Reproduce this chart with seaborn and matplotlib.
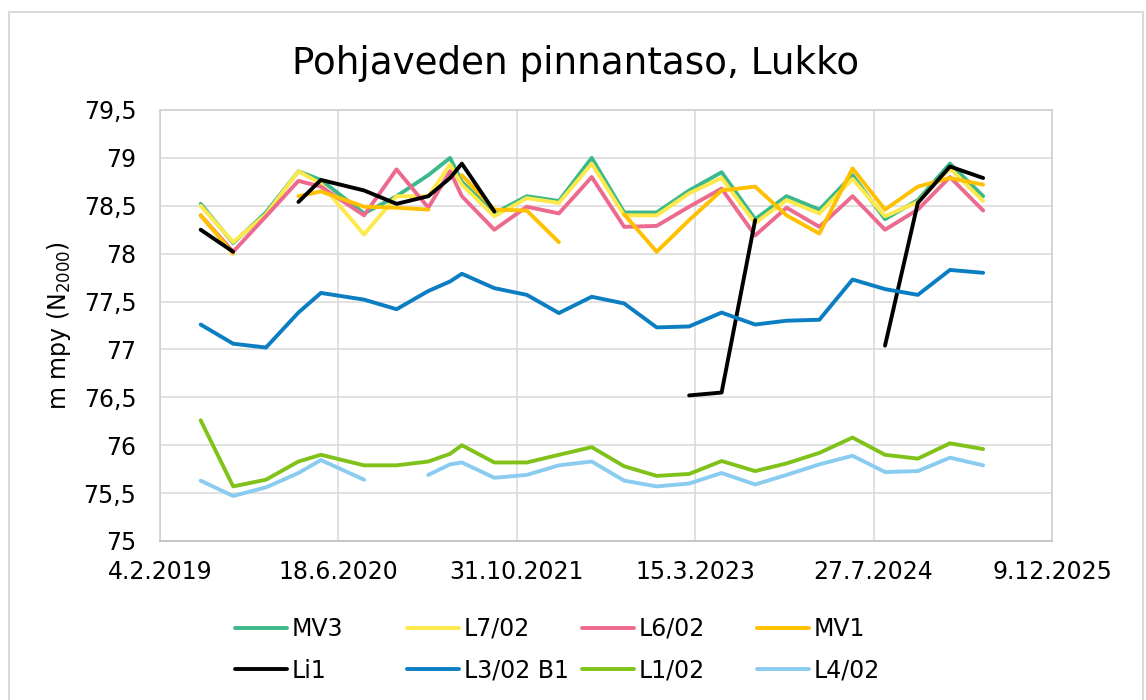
import matplotlib
matplotlib.use("Agg")
import matplotlib.pyplot as plt
from matplotlib.lines import Line2D
from matplotlib.patches import Rectangle
from matplotlib.ticker import FuncFormatter
import seaborn as sns
import pandas as pd
import numpy as np

nan = np.nan

# mittauspäivät (luettu kuvasta)
dates = ["2019-05-29", "2019-08-28", "2019-11-28", "2020-02-27", "2020-04-30",
         "2020-08-29", "2020-11-28", "2021-02-25", "2021-04-27", "2021-05-30",
         "2021-08-29", "2021-11-28", "2022-02-26", "2022-05-29", "2022-08-28",
         "2022-11-27", "2023-02-26", "2023-05-28", "2023-08-30", "2023-11-26",
         "2024-02-26", "2024-05-29", "2024-08-28", "2024-11-28", "2025-02-26",
         "2025-05-30"]

mv3 = [78.52, 78.11, 78.43, 78.86, 78.77, 78.42, 78.60, 78.82, 79.00, 78.75,
       78.42, 78.60, 78.55, 79.00, 78.43, 78.43, 78.66, 78.85, 78.36, 78.60,
       78.46, 78.82, 78.36, 78.56, 78.94, 78.60]
l7_02 = [78.50, 78.12, 78.41, 78.86, 78.73, 78.20, 78.60, 78.60, 78.93, 78.72,
         78.39, 78.58, 78.53, 78.94, 78.40, 78.40, 78.63, 78.79, 78.32, 78.56,
         78.42, 78.78, 78.39, 78.54, 78.89, 78.55]
l6_02 = [78.40, 78.02, 78.39, 78.76, 78.70, 78.40, 78.88, 78.48, 78.86, 78.60,
         78.25, 78.49, 78.42, 78.80, 78.28, 78.29, 78.49, 78.68, 78.19, 78.48,
         78.28, 78.60, 78.25, 78.46, 78.80, 78.45]
mv1 = [78.40, 78.00, nan, 78.60, 78.65, 78.49, 78.48, 78.46, nan, 78.82,
       78.46, 78.45, 78.12, nan, 78.41, 78.02, 78.35, 78.66, 78.70, 78.40,
       78.21, 78.89, 78.46, 78.70, 78.79, 78.72]
li1 = [78.25, 78.02, nan, 78.54, 78.77, 78.66, 78.52, 78.60, 78.79, 78.94,
       78.44, nan, nan, nan, nan, nan, 76.52, 76.55, 78.35, nan,
       nan, nan, 77.04, 78.53, 78.91, 78.79]
l3_02_b1 = [77.26, 77.06, 77.02, 77.385, 77.59, 77.52, 77.42, 77.61, 77.71, 77.79,
            77.64, 77.57, 77.38, 77.55, 77.48, 77.23, 77.24, 77.385, 77.26, 77.30,
            77.31, 77.73, 77.63, 77.57, 77.83, 77.80]
l1_02 = [76.26, 75.57, 75.64, 75.83, 75.90, 75.79, 75.79, 75.83, 75.91, 76.00,
         75.82, 75.82, 75.90, 75.98, 75.78, 75.68, 75.70, 75.835, 75.73, 75.81,
         75.92, 76.08, 75.90, 75.86, 76.02, 75.96]
l4_02 = [75.63, 75.47, 75.56, 75.71, 75.845, 75.64, nan, 75.69, 75.80, 75.82,
         75.66, 75.69, 75.79, 75.83, 75.63, 75.57, 75.60, 75.71, 75.59, 75.69,
         75.80, 75.89, 75.72, 75.73, 75.87, 75.79]

series_names = ["MV3", "L7/02", "L6/02", "MV1", "Li1", "L3/02 B1", "L1/02", "L4/02"]
series_values = [mv3, l7_02, l6_02, mv1, li1, l3_02_b1, l1_02, l4_02]
colors = ["#3CB98A", "#FFE94A", "#EC6A8E", "#FFC000", "#000000", "#0B7DC2", "#80C21A", "#8ACCF0"]

x_ticks = ["2019-02-04", "2020-06-18", "2021-10-31", "2023-03-15", "2024-07-27", "2025-12-09"]
y_ticks = [75, 75.5, 76, 76.5, 77, 77.5, 78, 78.5, 79, 79.5]

title = "Pohjaveden pinnantaso, Lukko"
ylabel = "m mpy (N$_{2000}$)"

# pitkä taulukko, katkot omiksi osikseen jotta viiva katkeaa
frames = []
for name, vals in zip(series_names, series_values):
    s = pd.Series(vals, dtype=float)
    part = s.isna().cumsum().astype(str)
    df = pd.DataFrame({"date": pd.to_datetime(dates), "value": s,
                       "series": name, "part": name + "_" + part})
    frames.append(df.dropna(subset=["value"]))
long_df = pd.concat(frames, ignore_index=True)

sns.set_theme(style="white")
plt.rcParams["font.family"] = ["DejaVu Sans"]
plt.rcParams["lines.solid_capstyle"] = "round"
plt.rcParams["text.color"] = "black"
plt.rcParams["axes.labelcolor"] = "black"
plt.rcParams["xtick.color"] = "black"
plt.rcParams["ytick.color"] = "black"

W, H = 1146, 700
fig = plt.figure(figsize=(W / 100, H / 100), dpi=100)
fig.patch.set_facecolor("white")
ax = fig.add_axes([160 / W, 1 - 541 / H, 892 / W, 431 / H])

palette = dict(zip(series_names, colors))
sns.lineplot(data=long_df, x="date", y="value", hue="series", units="part",
             estimator=None, hue_order=series_names, palette=palette,
             linewidth=2.8, legend=False, sort=False, ax=ax)

xt = pd.to_datetime(x_ticks)
ax.set_xlim(xt[0], xt[-1])
ax.set_xticks(xt)
ax.set_xticklabels([f"{d.day}.{d.month}.{d.year}" for d in xt])
ax.set_ylim(75, 79.5)
ax.set_yticks(y_ticks)
ax.yaxis.set_major_formatter(FuncFormatter(lambda v, p: f"{v:g}".replace(".", ",")))

ax.grid(True, color="#d9d9d9", linewidth=1.1)
ax.set_axisbelow(True)
for sp in ax.spines.values():
    sp.set_color("#cfcfcf")
    sp.set_linewidth(1.2)
ax.spines["bottom"].set_color("#bfbfbf")
ax.tick_params(axis="both", length=0, labelsize=17, colors="black")
ax.tick_params(axis="y", pad=17)
ax.tick_params(axis="x", pad=14)
ax.set_xlabel("")
ax.set_ylabel(ylabel, fontsize=17, color="black")
ax.yaxis.set_label_coords(-0.097, 0.5)

fig.text(576 / W, 1 - 73.5 / H, title, ha="center", va="baseline",
         fontsize=26.8, color="black")

# legenda: neljä saraketta, kaksi riviä
columns = [(0, 4, 235), (1, 5, 407), (2, 6, 582), (3, 7, 757)]
for i, j, xpx in columns:
    handles = [Line2D([0], [0], color=colors[k], lw=2.8) for k in (i, j)]
    leg = fig.legend(handles, [series_names[i], series_names[j]], loc="upper left",
                     bbox_to_anchor=(xpx / W, 1 - 617 / H), frameon=False,
                     borderpad=0, borderaxespad=0, handlelength=2.2,
                     handletextpad=0.2, labelspacing=0.75, fontsize=17)
    for t in leg.get_texts():
        t.set_color("black")

# kaavioalueen reunus
fig.add_artist(Rectangle((9 / W, -0.02), 1134 / W, 1.02 - 12 / H,
                         transform=fig.transFigure, fill=False,
                         edgecolor="#d9d9d9", linewidth=1.5))

fig.savefig("out.png", dpi=100)
